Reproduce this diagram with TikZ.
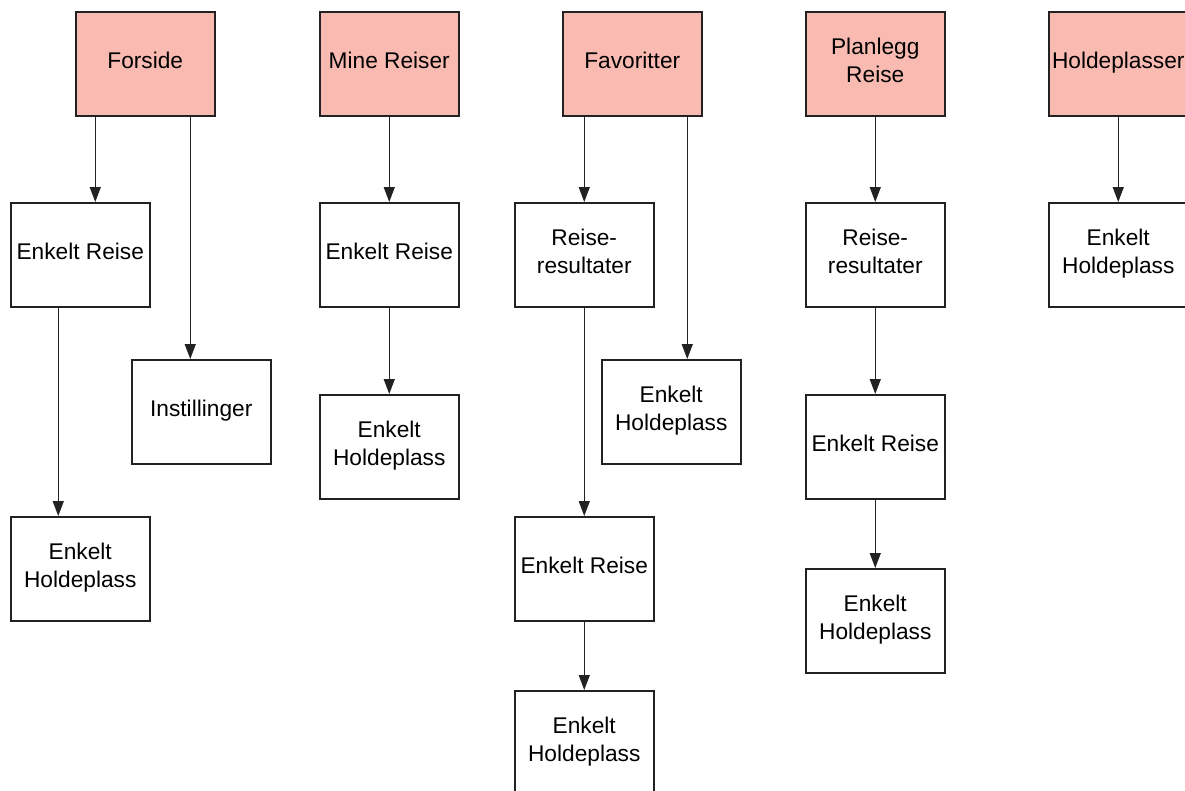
\documentclass[tikz,border=0pt]{standalone}
\usepackage{fontspec}
\setmainfont{Liberation Sans}
\usetikzlibrary{arrows.meta}
\definecolor{topfill}{HTML}{F9BAB1}
\definecolor{edge}{HTML}{222222}
\tikzset{
  page/.style={draw=edge, line width=1.5pt, minimum width=139pt, minimum height=104pt,
    inner sep=0pt, anchor=north west, align=center, text depth=7pt,
    font=\fontsize{22.7pt}{28.5pt}\selectfont},
  toppage/.style={page, fill=topfill},
  link/.style={draw=edge, line width=1.4pt, -{Triangle[length=15pt,width=11pt]}}
}
\begin{document}
\begin{tikzpicture}[x=1pt,y=-1pt]
\useasboundingbox (0,0) rectangle (1185,790);
\clip (0,0) rectangle (1185,790);

% top-level pages
\node[toppage] (forside) at (75,11) {Forside};
\node[toppage] (mine) at (319,11) {Mine Reiser};
\node[toppage] (fav) at (562,11) {Favoritter};
\node[toppage] (plan) at (805,11) {Planlegg\\Reise};
\node[toppage] (hold) at (1048,11) {\makebox[0pt]{Holdeplasser}};

% Forside branch
\node[page] (f1) at (10,202) {Enkelt Reise};
\node[page] (f2) at (131,359) {Instillinger};
\node[page] (f3) at (10,516) {Enkelt\\Holdeplass};

% Mine Reiser branch
\node[page] (m1) at (319,202) {Enkelt Reise};
\node[page] (m2) at (319,394) {Enkelt\\Holdeplass};

% Favoritter branch
\node[page] (v1) at (514,202) {Reise-\\resultater};
\node[page] (v2) at (601,359) {Enkelt\\Holdeplass};
\node[page] (v3) at (514,516) {Enkelt Reise};
\node[page] (v4) at (514,690) {Enkelt\\Holdeplass};

% Planlegg Reise branch
\node[page] (p1) at (805,202) {Reise-\\resultater};
\node[page] (p2) at (805,394) {Enkelt Reise};
\node[page] (p3) at (805,568) {Enkelt\\Holdeplass};

% Holdeplasser branch
\node[page] (h1) at (1048,202) {Enkelt\\Holdeplass};

% connectors
\draw[link] ([xshift=-50pt]forside.south) -- ([xshift=-50pt]forside.south |- f1.north);
\draw[link] ([xshift=45pt]forside.south) -- ([xshift=45pt]forside.south |- f2.north);
\draw[link] ([xshift=-22pt]f1.south) -- ([xshift=-22pt]f1.south |- f3.north);

\draw[link] (mine.south) -- (m1.north);
\draw[link] (m1.south) -- (m2.north);

\draw[link] ([xshift=-48pt]fav.south) -- ([xshift=-48pt]fav.south |- v1.north);
\draw[link] ([xshift=55pt]fav.south) -- ([xshift=55pt]fav.south |- v2.north);
\draw[link] (v1.south) -- (v3.north);
\draw[link] (v3.south) -- (v4.north);

\draw[link] (plan.south) -- (p1.north);
\draw[link] (p1.south) -- (p2.north);
\draw[link] (p2.south) -- (p3.north);

\draw[link] (hold.south) -- (h1.north);
\end{tikzpicture}
\end{document}
